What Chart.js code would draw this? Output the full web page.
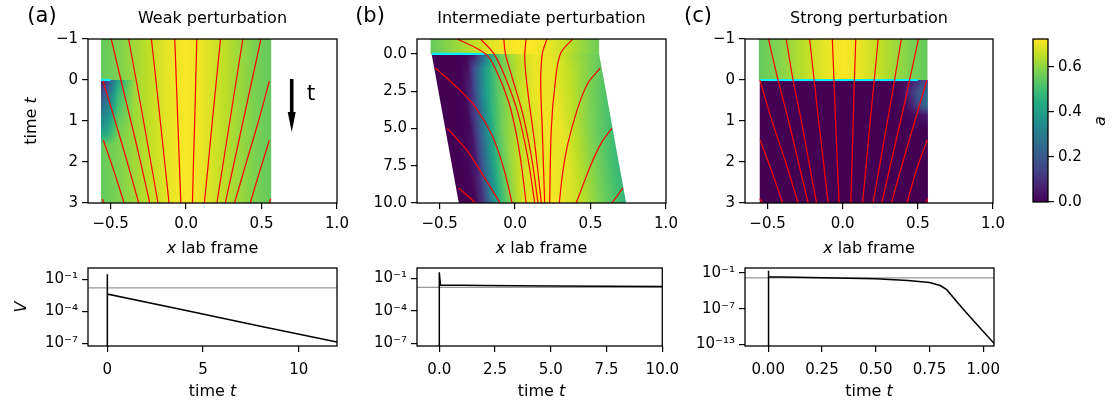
<!DOCTYPE html>
<html>
<head>
<meta charset="utf-8">
<script src="https://cdn.jsdelivr.net/npm/chart.js@4.4.0/dist/chart.umd.min.js"></script>
<style>
  body { margin: 0; background: #fff; width: 1115px; height: 400px; position: relative; overflow: hidden; font-family: "DejaVu Sans", sans-serif; }
  canvas { position: absolute; }
  .lbl { position: absolute; white-space: nowrap; color: #000; line-height: 1; }
</style>
</head>
<body>
<script>
// --- DATA ---
const A_MAX = 0.7226;              // top of the colour bar
const cbarTicks = [0, 0.2, 0.4, 0.6];

// top row axes
const xTopTicks = [-0.5, 0, 0.5, 1.0];
const tTicksShort = [-1, 0, 1, 2, 3];
const tTicksLong = [0, 2.5, 5, 7.5, 10];

// (a) weak perturbation: a(x,t) sampled across the tissue (s = 0 left edge, 1 right edge)
const fieldA_t = [-1, -0.01, 0.01, 0.3, 0.8, 1.3, 1.6, 3];
const fieldA_left = [-0.564, -0.564, -0.564, -0.564, -0.564, -0.564, -0.564, -0.564];
const fieldA_right = [0.564, 0.564, 0.564, 0.564, 0.564, 0.564, 0.564, 0.564];
const fieldA_s = [0, 0.04, 0.1, 0.2, 0.3, 0.4, 0.5, 0.6, 0.7, 0.8, 0.9, 0.96, 1];
const fieldA_a = [
  [0.55, 0.56, 0.58, 0.62, 0.66, 0.70, 0.72, 0.70, 0.66, 0.62, 0.58, 0.56, 0.55],
  [0.55, 0.56, 0.58, 0.62, 0.66, 0.70, 0.72, 0.70, 0.66, 0.62, 0.58, 0.56, 0.55],
  [0.04, 0.14, 0.42, 0.62, 0.66, 0.70, 0.72, 0.70, 0.66, 0.62, 0.58, 0.56, 0.55],
  [0.16, 0.24, 0.48, 0.62, 0.66, 0.70, 0.72, 0.70, 0.66, 0.62, 0.58, 0.56, 0.55],
  [0.29, 0.34, 0.53, 0.62, 0.66, 0.70, 0.72, 0.70, 0.66, 0.62, 0.58, 0.56, 0.55],
  [0.41, 0.45, 0.57, 0.62, 0.66, 0.70, 0.72, 0.70, 0.66, 0.62, 0.58, 0.56, 0.55],
  [0.55, 0.56, 0.58, 0.62, 0.66, 0.70, 0.72, 0.70, 0.66, 0.62, 0.58, 0.56, 0.55],
  [0.55, 0.56, 0.58, 0.62, 0.66, 0.70, 0.72, 0.70, 0.66, 0.62, 0.58, 0.56, 0.55]
];
const trajA = [
  { t: [-1, 0, 1, 2, 3], x: [-0.496, -0.432, -0.366, -0.302, -0.241] },
  { t: [-1, 0, 1, 2, 3], x: [-0.381, -0.331, -0.282, -0.234, -0.186] },
  { t: [-1, 0, 1, 2, 3], x: [-0.230, -0.200, -0.171, -0.142, -0.113] },
  { t: [-1, 0, 1, 2, 3], x: [-0.075, -0.065, -0.055, -0.045, -0.035] },
  { t: [0.02, 1, 2, 3], x: [-0.551, -0.470, -0.390, -0.314] },
  { t: [1.47, 2.2, 3], x: [-0.548, -0.480, -0.411] },
  { t: [2.9, 3], x: [-0.556, -0.544] },
  { t: [-1, 0, 1, 2, 3], x: [0.071, 0.064, 0.057, 0.049, 0.042] },
  { t: [-1, 0, 1, 2, 3], x: [0.228, 0.201, 0.174, 0.148, 0.121] },
  { t: [-1, 0, 1, 2, 3], x: [0.376, 0.333, 0.290, 0.247, 0.204] },
  { t: [-1, 0, 1, 2, 3], x: [0.496, 0.437, 0.378, 0.319, 0.260] },
  { t: [0.02, 1, 2, 3], x: [0.552, 0.480, 0.400, 0.321] },
  { t: [1.47, 2.2, 3], x: [0.552, 0.490, 0.425] },
  { t: [2.9, 3], x: [0.560, 0.551] }
];
const cyanA = { t: [0, 0], x: [-0.564, -0.50] };

// (b) intermediate perturbation
const fieldB_t = [-1, -0.01, 0.01, 1, 2.5, 5, 7.5, 10];
const fieldB_left = [-0.560, -0.560, -0.553, -0.535, -0.508, -0.463, -0.418, -0.373];
const fieldB_right = [0.557, 0.557, 0.557, 0.575, 0.602, 0.646, 0.691, 0.736];
const fieldB_s = [0, 0.05, 0.1, 0.15, 0.2, 0.25, 0.3, 0.35, 0.4, 0.5, 0.6, 0.7, 0.8, 0.9, 1];
const fieldB_a = [
  [0.55, 0.57, 0.59, 0.61, 0.63, 0.65, 0.67, 0.69, 0.70, 0.72, 0.72, 0.70, 0.66, 0.61, 0.56],
  [0.55, 0.57, 0.59, 0.61, 0.63, 0.65, 0.67, 0.69, 0.70, 0.72, 0.72, 0.70, 0.66, 0.61, 0.56],
  [0.00, 0.00, 0.00, 0.00, 0.00, 0.03, 0.20, 0.42, 0.55, 0.65, 0.70, 0.70, 0.65, 0.60, 0.55],
  [0.00, 0.00, 0.00, 0.00, 0.03, 0.22, 0.38, 0.50, 0.56, 0.65, 0.70, 0.70, 0.66, 0.60, 0.54],
  [0.00, 0.00, 0.00, 0.01, 0.10, 0.30, 0.44, 0.53, 0.59, 0.67, 0.71, 0.70, 0.65, 0.58, 0.52],
  [0.00, 0.00, 0.00, 0.02, 0.18, 0.35, 0.50, 0.58, 0.62, 0.67, 0.71, 0.70, 0.63, 0.56, 0.50],
  [0.00, 0.00, 0.01, 0.06, 0.26, 0.42, 0.54, 0.61, 0.66, 0.70, 0.71, 0.69, 0.62, 0.55, 0.48],
  [0.00, 0.00, 0.01, 0.12, 0.33, 0.47, 0.57, 0.64, 0.69, 0.72, 0.71, 0.67, 0.61, 0.54, 0.47]
];
const trajB = [
  { t: [-1, 0, 1.24, 3.24, 5.47, 7.7, 10], x: [-0.383, -0.196, -0.119, -0.042, 0.010, 0.045, 0.073] },
  { t: [-1, 0, 1.7, 4, 7, 10], x: [-0.229, -0.140, -0.060, 0.020, 0.085, 0.130] },
  { t: [-1, 0, 1.7, 4, 7, 10], x: [-0.075, -0.064, -0.016, 0.050, 0.110, 0.152] },
  { t: [-1, 0, 1, 3, 6, 10], x: [0.073, 0.064, 0.068, 0.090, 0.130, 0.174] },
  { t: [-1, 0, 2, 5, 10], x: [0.211, 0.180, 0.170, 0.180, 0.196] },
  { t: [-1, 0, 2, 5, 10], x: [0.381, 0.300, 0.265, 0.240, 0.229] },
  { t: [0.95, 2.36, 3.58, 5.47, 7.69, 10], x: [-0.527, -0.373, -0.262, -0.152, -0.075, -0.020] },
  { t: [5, 6.36, 7.69, 10], x: [-0.449, -0.328, -0.240, -0.100] },
  { t: [9, 10], x: [-0.373, -0.262] },
  { t: [0.95, 2, 3.8, 6, 8, 10], x: [0.564, 0.480, 0.410, 0.350, 0.315, 0.293] },
  { t: [5, 6, 7.5, 10], x: [0.641, 0.570, 0.500, 0.405] },
  { t: [9, 10], x: [0.714, 0.641] }
];
const cyanB = { t: [0, 0], x: [-0.553, -0.205] };

// (c) strong perturbation
const fieldC_t = [-1, -0.01, 0.01, 0.3, 0.6, 0.85, 1.2, 3];
const fieldC_left = [-0.558, -0.558, -0.552, -0.552, -0.552, -0.552, -0.552, -0.552];
const fieldC_right = [0.564, 0.564, 0.567, 0.567, 0.567, 0.567, 0.567, 0.567];
const fieldC_s = [0, 0.1, 0.2, 0.3, 0.4, 0.5, 0.6, 0.7, 0.8, 0.85, 0.9, 0.95, 1];
const fieldC_a = [
  [0.55, 0.58, 0.62, 0.66, 0.70, 0.72, 0.70, 0.66, 0.62, 0.60, 0.58, 0.565, 0.55],
  [0.55, 0.58, 0.62, 0.66, 0.70, 0.72, 0.70, 0.66, 0.62, 0.60, 0.58, 0.565, 0.55],
  [0, 0, 0, 0, 0, 0, 0, 0, 0, 0.01, 0.05, 0.12, 0.18],
  [0, 0, 0, 0, 0, 0, 0, 0, 0, 0.02, 0.10, 0.20, 0.25],
  [0, 0, 0, 0, 0, 0, 0, 0, 0, 0.01, 0.06, 0.18, 0.27],
  [0, 0, 0, 0, 0, 0, 0, 0, 0, 0, 0.01, 0.03, 0.05],
  [0, 0, 0, 0, 0, 0, 0, 0, 0, 0, 0, 0, 0],
  [0, 0, 0, 0, 0, 0, 0, 0, 0, 0, 0, 0, 0]
];
const trajC = [
  { t: [-1, 0, 1, 2, 3], x: [-0.494, -0.430, -0.360, -0.295, -0.230] },
  { t: [-1, 0, 1, 2, 3], x: [-0.376, -0.330, -0.275, -0.225, -0.174] },
  { t: [-1, 0, 1, 2, 3], x: [-0.220, -0.190, -0.160, -0.128, -0.097] },
  { t: [-1, 0, 1, 2, 3], x: [-0.069, -0.058, -0.047, -0.036, -0.024] },
  { t: [0, 1, 2, 3], x: [-0.551, -0.470, -0.380, -0.297] },
  { t: [1.46, 2.2, 3], x: [-0.550, -0.475, -0.400] },
  { t: [2.9, 3], x: [-0.552, -0.533] },
  { t: [-1, 0, 1, 2, 3], x: [0.087, 0.078, 0.070, 0.062, 0.054] },
  { t: [-1, 0, 1, 2, 3], x: [0.236, 0.210, 0.183, 0.158, 0.132] },
  { t: [-1, 0, 1, 2, 3], x: [0.390, 0.345, 0.298, 0.250, 0.202] },
  { t: [-1, 0, 1, 2, 3], x: [0.504, 0.445, 0.385, 0.322, 0.260] },
  { t: [0, 1, 2, 3], x: [0.560, 0.480, 0.400, 0.324] },
  { t: [1.46, 2.2, 3], x: [0.563, 0.490, 0.428] },
  { t: [2.9, 3], x: [0.566, 0.552] }
];
const cyanC = { t: [0, 0], x: [-0.552, 0.500] };

// bottom row: V(t) on a log axis, grey threshold line
const vThreshold = 0.015;
const vA_t = [0, 0, 0.02, 4, 8, 12];
const vA_v = [1e-20, 0.28, 4.0e-3, 1.3e-4, 4.0e-6, 1.3e-7];
const vB_t = [0, 0, 0.05, 2, 5, 10];
const vB_v = [1e-20, 0.36, 0.024, 0.022, 0.020, 0.018];
const vC_t = [0, 0, 0.003, 0.25, 0.5, 0.65, 0.75, 0.8, 0.83, 0.9, 0.98, 1.05];
const vC_v = [1e-20, 0.25, 0.024, 0.0166, 0.0112, 0.0056, 0.0025, 7.9e-4, 1.6e-4, 1.6e-7, 1e-10, 1.6e-13];
const tTicksA = [0, 5, 10];
const tTicksB = [0, 2.5, 5, 7.5, 10];
const tTicksC = [0, 0.25, 0.5, 0.75, 1.0];
const logTicksAB = [1e-1, 1e-4, 1e-7];
const logTicksC = [1e-1, 1e-7, 1e-13];

// --- 1. HELPERS ---
const FONT = "'DejaVu Sans', sans-serif";
const TICK_SIZE = 15;
Chart.defaults.font.family = FONT;
Chart.defaults.font.size = TICK_SIZE;
Chart.defaults.color = '#000';
Chart.defaults.animation = false;

const VIRIDIS = ['#440154', '#482475', '#414487', '#355f8d', '#2a788e', '#21918c',
                 '#22a884', '#44bf70', '#7ad151', '#bddf26', '#fde725'];
const VIR_RGB = VIRIDIS.map(h => [1, 3, 5].map(i => parseInt(h.slice(i, i + 2), 16)));

function viridis(f) {
  f = Math.min(1, Math.max(0, f));
  const p = f * 10, i = Math.min(9, Math.floor(p)), u = p - i;
  return [0, 1, 2].map(c => VIR_RGB[i][c] + (VIR_RGB[i + 1][c] - VIR_RGB[i][c]) * u);
}

function profile(s, vals, x) {
  let k = 0;
  while (k < s.length - 2 && x > s[k + 1]) k++;
  const u = (x - s[k]) / (s[k + 1] - s[k]);
  return vals[k] + (vals[k + 1] - vals[k]) * u;
}

const minus = v => (v < 0 ? '\u2212' : '');
const fmt = d => v => minus(v) + Math.abs(v).toFixed(d);
const SUP = { '-': '\u207b', '0': '\u2070', '1': '\u00b9', '2': '\u00b2', '3': '\u00b3', '4': '\u2074',
              '5': '\u2075', '6': '\u2076', '7': '\u2077', '8': '\u2078', '9': '\u2079' };
const fmtPow = v => '10' + String(Math.round(Math.log10(v))).split('').map(c => SUP[c]).join('');

function axis(min, max, ticks, cb, extra, pad) {
  return Object.assign({
    type: 'linear', min: min, max: max,
    afterBuildTicks: s => { s.ticks = ticks.map(v => ({ value: v })); },
    ticks: { callback: cb, font: { family: FONT, size: TICK_SIZE }, color: '#000', padding: pad === undefined ? 4 : pad,
             maxRotation: 0, autoSkip: false },
    grid: { drawOnChartArea: false, drawTicks: true, tickLength: 6, color: '#000', lineWidth: 1.2 },
    border: { display: false }
  }, extra || {});
}

// plot box (page pixels) and chart canvas around it
function makeChart(box, cfg, pad) {
  pad = pad || { l: 80, t: 12, r: 22, b: 40 };
  const cv = document.createElement('canvas');
  cv.width = box.r - box.l + pad.l + pad.r;
  cv.height = box.b - box.t + pad.t + pad.b;
  cv.style.left = (box.l - pad.l) + 'px';
  cv.style.top = (box.t - pad.t) + 'px';
  document.body.appendChild(cv);
  cfg.options.responsive = false;
  cfg.options.layout = { padding: {
    left: pad.lp || 0, top: pad.t,
    right: pad.rp === undefined ? pad.r : pad.rp,
    bottom: pad.bp || 0 } };
  const sc = cfg.options.scales;
  if (sc.x.display !== false) sc.x.afterFit = s => { s.height = pad.b; };
  sc.y.afterFit = s => { s.width = pad.yw || pad.l; };
  cfg.options.plugins = Object.assign({ legend: { display: false }, tooltip: { enabled: false } }, cfg.options.plugins || {});
  return new Chart(cv.getContext('2d'), cfg);
}

const framePlugin = {
  id: 'frame',
  afterDatasetsDraw(chart) {
    const { ctx, chartArea: ca } = chart;
    ctx.save();
    ctx.strokeStyle = '#000';
    ctx.lineWidth = 1.3;
    ctx.strokeRect(ca.left, ca.top, ca.right - ca.left, ca.bottom - ca.top);
    ctx.restore();
  }
};

// --- 2. COLOUR FIELD (drawn through the chart scales) ---
function fieldPlugin(f) {
  return {
    id: 'field',
    beforeDatasetsDraw(chart) {
      const ca = chart.chartArea, xs = chart.scales.x, ys = chart.scales.y;
      const w = Math.round(ca.right - ca.left), h = Math.round(ca.bottom - ca.top);
      const off = document.createElement('canvas');
      off.width = w; off.height = h;
      const octx = off.getContext('2d');
      const img = octx.createImageData(w, h);
      const ppu = Math.abs(xs.getPixelForValue(1) - xs.getPixelForValue(0));
      const n = f.t.length;
      for (let j = 0; j < h; j++) {
        const t = ys.getValueForPixel(ca.top + j + 0.5);
        if (t < f.t[0] || t > f.t[n - 1]) continue;
        let k = 0;
        while (k < n - 2 && t > f.t[k + 1]) k++;
        const u = (t - f.t[k]) / (f.t[k + 1] - f.t[k]);
        const L = f.left[k] + (f.left[k + 1] - f.left[k]) * u;
        const R = f.right[k] + (f.right[k + 1] - f.right[k]) * u;
        for (let i = 0; i < w; i++) {
          const xv = xs.getValueForPixel(ca.left + i + 0.5);
          const cov = Math.min(1, Math.max(0, Math.min(xv - L, R - xv) * ppu + 0.5));
          if (cov <= 0) continue;
          const s = Math.min(1, Math.max(0, (xv - L) / (R - L)));
          const a = profile(f.s, f.a[k], s) * (1 - u) + profile(f.s, f.a[k + 1], s) * u;
          const c = viridis(a / A_MAX);
          const p = (j * w + i) * 4;
          img.data[p] = c[0]; img.data[p + 1] = c[1]; img.data[p + 2] = c[2];
          img.data[p + 3] = Math.round(cov * 255);
        }
      }
      octx.putImageData(img, 0, 0);
      chart.ctx.drawImage(off, ca.left, ca.top);
    }
  };
}

// time arrow in panel (a)
const ARROW = { x: 0.70, t0: -0.024, t1: 1.27 };
const arrowPlugin = {
  id: 'arrow',
  afterDatasetsDraw(chart) {
    const { ctx, scales: { x, y } } = chart;
    const px = x.getPixelForValue(ARROW.x), y0 = y.getPixelForValue(ARROW.t0), y1 = y.getPixelForValue(ARROW.t1);
    ctx.save();
    ctx.fillStyle = '#000';
    ctx.fillRect(px - 1.8, y0, 3.6, y1 - y0 - 18);
    ctx.beginPath();
    ctx.moveTo(px - 4, y1 - 20);
    ctx.lineTo(px + 4, y1 - 20);
    ctx.lineTo(px, y1);
    ctx.closePath();
    ctx.fill();
    ctx.restore();
  }
};

function lineSet(tr, color, width) {
  return {
    data: tr.t.map((t, i) => ({ x: tr.x[i], y: t })),
    showLine: true, borderColor: color, borderWidth: width, pointRadius: 0, tension: 0.35, fill: false
  };
}

// --- 3. TOP ROW ---
function topPanel(box, field, traj, cyan, yTicks, yFmt, yMin, yMax, extraPlugins) {
  const sets = traj.map(tr => lineSet(tr, '#ff0000', 1.2));
  sets.push(lineSet(cyan, '#00f0ff', 2.2));
  return makeChart(box, {
    type: 'scatter',
    data: { datasets: sets },
    options: {
      scales: {
        x: axis(-0.65, 1.0, xTopTicks, fmt(1), null, 6),
        y: axis(yMin, yMax, yTicks, yFmt, { reverse: true })
      }
    },
    plugins: [fieldPlugin(field), framePlugin].concat(extraPlugins || [])
  });
}

topPanel({ l: 88, t: 38, r: 337, b: 203 },
  { t: fieldA_t, left: fieldA_left, right: fieldA_right, s: fieldA_s, a: fieldA_a },
  trajA, cyanA, tTicksShort, fmt(0), -1, 3, [arrowPlugin]);
topPanel({ l: 417, t: 38, r: 666, b: 203 },
  { t: fieldB_t, left: fieldB_left, right: fieldB_right, s: fieldB_s, a: fieldB_a },
  trajB, cyanB, tTicksLong, fmt(1), -1, 10);
topPanel({ l: 745, t: 38, r: 993, b: 203 },
  { t: fieldC_t, left: fieldC_left, right: fieldC_right, s: fieldC_s, a: fieldC_a },
  trajC, cyanC, tTicksShort, fmt(0), -1, 3);

// colour bar
const cbarPlugin = {
  id: 'cbar',
  beforeDatasetsDraw(chart) {
    const { ctx, chartArea: ca, scales: { y } } = chart;
    const g = ctx.createLinearGradient(0, y.getPixelForValue(0), 0, y.getPixelForValue(A_MAX));
    VIRIDIS.forEach((c, i) => g.addColorStop(i / 10, c));
    ctx.fillStyle = g;
    ctx.fillRect(ca.left, ca.top, ca.right - ca.left, ca.bottom - ca.top);
  }
};
makeChart({ l: 1033, t: 38, r: 1048, b: 203 }, {
  type: 'scatter',
  data: { datasets: [] },
  options: {
    scales: {
      x: { display: false, min: 0, max: 1 },
      y: axis(0, A_MAX, cbarTicks, fmt(1), { position: 'right' })
    }
  },
  plugins: [cbarPlugin, framePlugin]
}, { l: 10, lp: 10, t: 12, r: 60, rp: 0, b: 12, bp: 12, yw: 60 });

// --- 4. BOTTOM ROW ---
function bottomPanel(box, tArr, vArr, xMin, xMax, xTicks, xFmt, yMin, yMax, yTicks) {
  return makeChart(box, {
    type: 'scatter',
    data: {
      datasets: [
        { data: tArr.map((t, i) => ({ x: t, y: vArr[i] })), showLine: true, borderColor: '#000', borderWidth: 1.5, pointRadius: 0 },
        { data: [{ x: xMin, y: vThreshold }, { x: xMax, y: vThreshold }], showLine: true, borderColor: '#999999', borderWidth: 1.3, pointRadius: 0 }
      ]
    },
    options: {
      scales: {
        x: axis(xMin, xMax, xTicks, xFmt, null, 9),
        y: axis(yMin, yMax, yTicks, fmtPow, { type: 'logarithmic' })
      }
    },
    plugins: [framePlugin]
  });
}

bottomPanel({ l: 88, t: 267, r: 337, b: 346 }, vA_t, vA_v, -1, 12, tTicksA, fmt(0), 5.6e-8, 1.1, logTicksAB);
bottomPanel({ l: 417, t: 267, r: 666, b: 346 }, vB_t, vB_v, -1, 10, tTicksB, fmt(1), 6.3e-8, 0.9, logTicksAB);
bottomPanel({ l: 745, t: 267, r: 994, b: 346 }, vC_t, vC_v, -0.108, 1.05, tTicksC, fmt(2), 5.6e-14, 0.7, logTicksC);

// --- 5. TEXT ---
function addText(html, cx, cy, size, rot) {
  const d = document.createElement('div');
  d.className = 'lbl';
  d.innerHTML = html;
  d.style.fontSize = size + 'px';
  d.style.left = cx + 'px';
  d.style.top = cy + 'px';
  d.style.transform = rot ? 'translate(-50%,-50%) rotate(-90deg)' : 'translate(-50%,-50%)';
  document.body.appendChild(d);
}

addText('(a)', 42, 14.7, 21);
addText('(b)', 370, 14.7, 21);
addText('(c)', 698, 14.7, 21);
addText('Weak perturbation', 212.5, 18.1, 16);
addText('Intermediate perturbation', 541.5, 18.1, 16);
addText('Strong perturbation', 869, 18.1, 16);
['212.5', '541.5', '869'].forEach(cx => {
  addText('<i>x</i> lab frame', +cx, 248.1, 16);
  addText('time <i>t</i>', +cx, 391.1, 16);
});
addText('time <i>t</i>', 31, 120.5, 16, true);
addText('<i>V</i>', 20.6, 306.5, 16, true);
addText('<i>a</i>', 1099.6, 121, 16, true);
addText('t', 311, 92.7, 22);
</script>
</body>
</html>
